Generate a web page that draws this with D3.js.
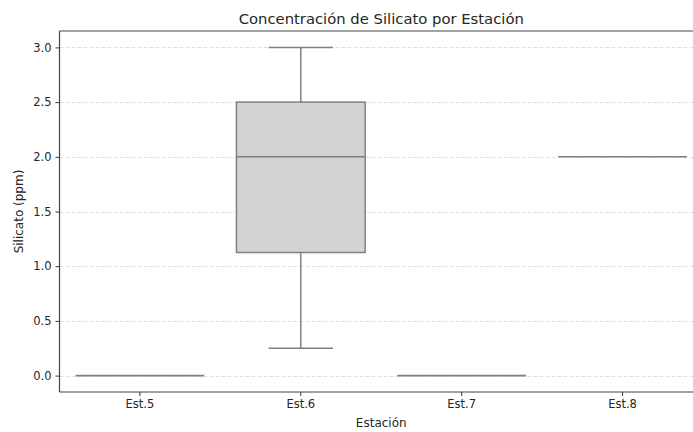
<!DOCTYPE html>
<html>
<head>
<meta charset="utf-8">
<script src="https://cdn.jsdelivr.net/npm/d3@7"></script>
<style>
  html, body { margin: 0; padding: 0; background: #fff; }
  svg { display: block; font-family: "DejaVu Sans", sans-serif; }
</style>
</head>
<body>
<svg id="chart" width="693" height="432"></svg>
<script>
// ---- data ----
const stations = ["Est.5", "Est.6", "Est.7", "Est.8"];
const whiskerLow  = [0, 0.25, 0, 2];
const q1          = [0, 1.125, 0, 2];
const median      = [0, 2.0, 0, 2];
const q3          = [0, 2.5, 0, 2];
const whiskerHigh = [0, 3.0, 0, 2];
const yTicks = [0, 0.5, 1.0, 1.5, 2.0, 2.5, 3.0];

const title = "Concentración de Silicato por Estación";
const xLabel = "Estación";
const yLabel = "Silicato (ppm)";

(function () {
// ---- layout ----
const svg = d3.select("#chart");
const mL = 59.5, mR = 703, mT = 31, mB = 392;

const x = d3.scaleBand().domain(stations).range([mL, mR]).paddingInner(0).paddingOuter(0);
const y = d3.scaleLinear().domain([-0.15, 3.15]).range([mB, mT]);

const lineColor = "#808080";
const boxFill = "#d3d3d3";

// grid
svg.append("g").selectAll("line").data(yTicks).join("line")
  .attr("x1", mL).attr("x2", 693)
  .attr("y1", d => Math.round(y(d)) + 0.5).attr("y2", d => Math.round(y(d)) + 0.5)
  .attr("stroke", "#d9d9d9").attr("stroke-width", 0.8)
  .attr("stroke-dasharray", "4,2");

const data = stations.map((s, i) => ({
  s, lo: whiskerLow[i], q1: q1[i], med: median[i], q3: q3[i], hi: whiskerHigh[i]
}));

const bw = x.bandwidth() * 0.8;
const g = svg.append("g");
data.forEach(d => {
  const cx = x(d.s) + x.bandwidth() / 2;
  const gg = g.append("g");
  if (d.q1 > d.lo) {
    gg.append("line").attr("x1", cx).attr("x2", cx).attr("y1", y(d.lo)).attr("y2", y(d.q1))
      .attr("stroke", lineColor).attr("stroke-width", 1.5);
    gg.append("line").attr("x1", cx - bw / 4).attr("x2", cx + bw / 4)
      .attr("y1", y(d.lo)).attr("y2", y(d.lo))
      .attr("stroke", lineColor).attr("stroke-width", 1.5);
  }
  if (d.hi > d.q3) {
    gg.append("line").attr("x1", cx).attr("x2", cx).attr("y1", y(d.q3)).attr("y2", y(d.hi))
      .attr("stroke", lineColor).attr("stroke-width", 1.5);
    gg.append("line").attr("x1", cx - bw / 4).attr("x2", cx + bw / 4)
      .attr("y1", y(d.hi)).attr("y2", y(d.hi))
      .attr("stroke", lineColor).attr("stroke-width", 1.5);
  }
  if (d.q3 > d.q1) {
    gg.append("rect").attr("x", cx - bw / 2).attr("width", bw)
      .attr("y", y(d.q3)).attr("height", y(d.q1) - y(d.q3))
      .attr("fill", boxFill).attr("stroke", lineColor).attr("stroke-width", 1.5);
  }
  gg.append("line").attr("x1", cx - bw / 2).attr("x2", cx + bw / 2)
    .attr("y1", y(d.med)).attr("y2", y(d.med))
    .attr("stroke", lineColor).attr("stroke-width", 1.6);
});

// axes
const xAxis = svg.append("g").attr("transform", `translate(0,${mB})`)
  .call(d3.axisBottom(x).tickSize(4).tickPadding(4).tickSizeOuter(0));
const yAxis = svg.append("g").attr("transform", `translate(${mL},0)`)
  .call(d3.axisLeft(y).tickValues(yTicks).tickFormat(d3.format(".1f")).tickSize(4).tickPadding(4).tickSizeOuter(0));
[xAxis, yAxis].forEach(a => {
  a.select(".domain").remove();
  a.selectAll("text").attr("font-size", 11.5).attr("fill", "#262626").attr("font-family", "DejaVu Sans");
  a.selectAll(".tick line").attr("stroke", "#333").attr("stroke-width", 1);
});

// spines
svg.append("line").attr("x1", mL).attr("x2", mL).attr("y1", mT).attr("y2", mB)
  .attr("stroke", "#444").attr("stroke-width", 1.2);
svg.append("line").attr("x1", mL).attr("x2", 693).attr("y1", mB).attr("y2", mB)
  .attr("stroke", "#444").attr("stroke-width", 1.2);
svg.append("line").attr("x1", mL).attr("x2", 693).attr("y1", mT).attr("y2", mT)
  .attr("stroke", "#444").attr("stroke-width", 1.2);

// labels
svg.append("text").attr("x", (mL + mR) / 2).attr("y", 24)
  .attr("text-anchor", "middle").attr("font-size", 14.8).attr("fill", "#262626").text(title);
svg.append("text").attr("x", (mL + mR) / 2).attr("y", 427)
  .attr("text-anchor", "middle").attr("font-size", 12).attr("fill", "#262626").text(xLabel);
svg.append("text").attr("transform", `translate(22.5,${(mT + mB) / 2}) rotate(-90)`)
  .attr("text-anchor", "middle").attr("font-size", 12).attr("fill", "#262626").text(yLabel);
})();
</script>
</body>
</html>
